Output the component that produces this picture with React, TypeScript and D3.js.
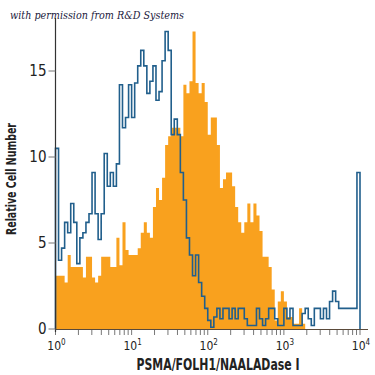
import React from "react";
import * as d3 from "d3";

// Histogram bins: 100 bins evenly spaced in log10 over 10^0 .. 10^4
const BIN_COUNT = 100;
const X_DOMAIN = [1, 10000];
const Y_TICKS = [0, 5, 10, 15];
const X_TICK_EXPONENTS = [0, 1, 2, 3, 4];

// Filled (orange) series: PSMA/FOLH1 stained cells
const stainedCounts = [
  3.1, 3.1, 3.1, 2.7, 4.3, 3.6, 3.6, 3.6, 3.6, 3.0,
  4.2, 4.2, 3.0, 2.7, 3.1, 4.2, 4.2, 4.2, 3.6, 3.6,
  5.3, 3.7, 6.2, 4.6, 4.3, 4.3, 4.3, 4.7, 5.6, 6.2,
  5.6, 5.3, 7.1, 8.2, 7.5, 8.8, 10.7, 11.2, 11.7, 11.7,
  11.7, 11.2, 14.2, 13.7, 14.4, 17.3, 14.3, 13.7, 14.3, 13.2,
  11.3, 12.3, 12.3, 10.7, 8.2, 8.7, 9.1, 9.1, 8.3, 7.1,
  6.2, 5.6, 6.2, 7.3, 6.2, 7.3, 6.6, 5.7, 4.2, 4.2,
  3.6, 2.3, 0.5, 1.6, 2.2, 1.6, 0.7, 0.7, 0.3, 0.3,
  1.2, 0.3, 0, 0, 0, 0, 0, 0, 0, 0,
  0, 0, 0, 0, 0, 0, 0, 0, 0, 0,
];

// Outline (blue) series: isotype control
const controlCounts = [
  10.5, 4.0, 4.7, 6.2, 5.6, 7.3, 6.2, 3.8, 5.3, 5.6,
  6.2, 6.7, 9.1, 6.7, 5.2, 6.7, 10.2, 8.3, 9.1, 8.3,
  9.6, 14.2, 11.7, 12.3, 14.2, 12.3, 14.3, 15.3, 16.2, 15.3,
  13.7, 14.4, 15.3, 13.3, 13.8, 15.6, 17.3, 16.2, 11.3, 12.2,
  11.3, 9.1, 7.5, 5.3, 4.3, 3.1, 4.3, 2.7, 1.9, 1.2,
  0.5, 0.1, 0.7, 1.2, 0.6, 1.2, 1.2, 0.6, 1.2, 0.6,
  1.2, 1.2, 0.6, 0.2, 0.2, 0.2, 1.2, 0.6, 0.2, 0.6,
  1.2, 1.2, 0.6, 0.2, 0.2, 1.2, 0.6, 1.2, 0.2, 0.2,
  0.2, 0.9, 1.2, 0.6, 0.2, 1.2, 1.2, 0.6, 1.2, 0.6,
  1.6, 2.2, 1.6, 1.2, 1.2, 1.2, 1.2, 1.2, 1.2, 9.1,
];

const CREDIT = "with permission from R&D Systems";
const X_TITLE = "PSMA/FOLH1/NAALADase I";
const Y_TITLE = "Relative Cell Number";

const W = 375;
const H = 375;
const LEFT = 55.5;
const RIGHT = 360;
const BASE = 329;
const TOP_AXIS = 18;

const NARROW = "'Liberation Sans Narrow', 'DejaVu Sans Condensed', 'Roboto', sans-serif";

export default function App() {
  const x = d3.scaleLog().domain(X_DOMAIN).range([LEFT, RIGHT]);
  const y = d3.scaleLinear().domain([0, 15]).range([BASE, 71]);

  const lo = Math.log10(X_DOMAIN[0]);
  const hi = Math.log10(X_DOMAIN[1]);
  const edge = (i: number) => Math.pow(10, lo + ((hi - lo) * i) / BIN_COUNT);

  const stepPoints = (vals: number[]) => {
    const pts: [number, number][] = [[edge(0), 0]];
    vals.forEach((v, i) => {
      pts.push([edge(i), v]);
      pts.push([edge(i + 1), v]);
    });
    pts.push([edge(vals.length), 0]);
    return pts;
  };

  const area = d3
    .area<[number, number]>()
    .x((d) => x(d[0]))
    .y0(y(0))
    .y1((d) => y(d[1]));
  const line = d3
    .line<[number, number]>()
    .x((d) => x(d[0]))
    .y((d) => y(d[1]));

  const orangePath = area(stepPoints(stainedCounts)) || "";
  const bluePath = line(stepPoints(controlCounts)) || "";

  const xTicks = x.ticks();

  return (
    <svg width={W} height={H} style={{ position: "absolute", left: 0, top: 0 }}>
      <rect x={0} y={0} width={W} height={H} fill="#ffffff" />
      <text
        x={10}
        y={19}
        fontFamily="'DejaVu Serif', 'Liberation Serif', serif"
        fontStyle="italic"
        fontSize={11}
        fill="#1c2140"
        textLength={174}
        lengthAdjust="spacingAndGlyphs"
      >
        {CREDIT}
      </text>

      <path d={orangePath} fill="#F9A11E" stroke="none" />
      <path d={bluePath} fill="none" stroke="#215f8c" strokeWidth={1.6} />

      {/* x axis */}
      <line x1={LEFT} x2={368} y1={BASE + 0.5} y2={BASE + 0.5} stroke="#5a4a3a" strokeWidth={1.2} />
      {xTicks.map((t, i) => (
        <line
          key={"xt" + i}
          x1={x(t)}
          x2={x(t)}
          y1={BASE + 1}
          y2={BASE + 6}
          stroke="#777"
          strokeWidth={1}
        />
      ))}
      {X_TICK_EXPONENTS.map((e) => (
        <text
          key={"xl" + e}
          x={x(Math.pow(10, e)) + 1}
          y={350}
          textAnchor="middle"
          fontFamily={NARROW}
          fontSize={12}
          fill="#222"
        >
          10
          <tspan dy={-5} fontSize={8}>
            {e}
          </tspan>
        </text>
      ))}
      <text
        x={218}
        y={370}
        textAnchor="middle"
        fontFamily={NARROW}
        fontWeight="bold"
        fontSize={15}
        fill="#222"
        textLength={163}
        lengthAdjust="spacingAndGlyphs"
      >
        {X_TITLE}
      </text>

      {/* y axis */}
      <line x1={LEFT} x2={LEFT} y1={TOP_AXIS} y2={BASE + 3} stroke="#333" strokeWidth={1.2} />
      {Y_TICKS.map((t) => (
        <g key={"yt" + t}>
          <line x1={LEFT - 7} x2={LEFT} y1={y(t)} y2={y(t)} stroke="#777" strokeWidth={1} />
          <text
            x={LEFT - 9}
            y={y(t) + 5}
            textAnchor="end"
            fontFamily={NARROW}
            fontSize={15}
            fill="#222"
          >
            {t}
          </text>
        </g>
      ))}
      <text
        transform={`translate(16, 179) rotate(-90)`}
        textAnchor="middle"
        fontFamily={NARROW}
        fontWeight="bold"
        fontSize={14}
        fill="#222"
        textLength={112}
        lengthAdjust="spacingAndGlyphs"
      >
        {Y_TITLE}
      </text>
    </svg>
  );
}
